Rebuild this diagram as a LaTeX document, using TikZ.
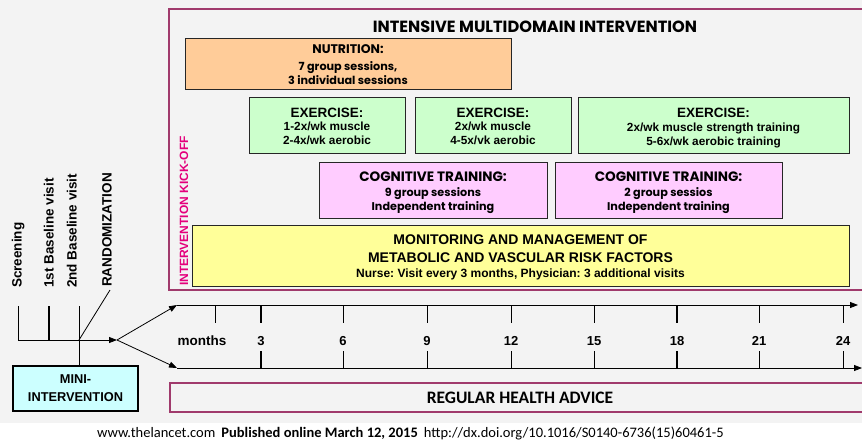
\documentclass[tikz,border=0pt]{standalone}
\usepackage{fontspec}
\setmainfont{Liberation Sans}
\newfontfamily\geo{Poppins}
\newfontfamily\calib{Carlito}
\usetikzlibrary{arrows.meta}
\frenchspacing

\definecolor{bgcol}{RGB}{243,243,243}
\definecolor{framecol}{RGB}{160,58,108}
\definecolor{kickcol}{RGB}{228,0,124}
\definecolor{nutricol}{RGB}{255,204,153}
\definecolor{exercol}{RGB}{204,255,204}
\definecolor{cogncol}{RGB}{255,204,255}
\definecolor{monicol}{RGB}{255,255,153}
\definecolor{minicol}{RGB}{204,255,255}

\newcommand{\fs}[1]{\fontsize{#1}{#1}\selectfont}

\tikzset{
  box/.style={draw=black!85, line width=1pt, inner sep=0pt},
  lbl/.style={anchor=base, inner sep=0pt, font=\bfseries},
  vlbl/.style={anchor=mid west, inner sep=0pt, rotate=90, font=\bfseries\fs{13.5}},
  frameline/.style={draw=framecol, line width=1.6pt},
  thin/.style={line width=0.8pt},
  tip/.style={-{Triangle[length=8pt,width=6pt]}},
  geohead/.style={lbl, font=\geo\bfseries\fs{13.6}},
  geosub/.style={lbl, font=\geo\bfseries\fs{11.2}},
  exhead/.style={lbl, font=\bfseries\fs{13.5}},
  exsub/.style={lbl, font=\bfseries\fs{11.8}},
}

\begin{document}
\begin{tikzpicture}[x=1pt,y=-1pt]
\useasboundingbox (0,0) rectangle (862,445);
\fill[bgcol] (0,0) rectangle (862,423);
\fill[white] (0,423) rectangle (862,445);

% intensive intervention frame (open on the right)
\draw[frameline] (862,9) -- (169,9) -- (169,290) -- (862,290);
\node[lbl, font=\geo\bfseries\fs{16.2}] (title) at (535,32) {INTENSIVE MULTIDOMAIN INTERVENTION};

% nutrition
\node[box, fill=nutricol, minimum width=326pt, minimum height=51pt] (nutr) at (348,63.5) {};
\node[lbl, font=\geo\bfseries\fs{12.5}] (nutrA) at (nutr.center |- 0,53) {NUTRITION:};
\node[geosub] (nutrB) at (nutr.center |- 0,70) {7 group sessions,};
\node[geosub] (nutrC) at (nutr.center |- 0,84) {3 individual sessions};

% exercise
\node[box, fill=exercol, minimum width=156pt, minimum height=56pt] (exA) at (327,125) {};
\node[box, fill=exercol, minimum width=156pt, minimum height=56pt] (exB) at (493,125.5) {};
\node[box, fill=exercol, minimum width=271pt, minimum height=56pt] (exC) at (713.5,125) {};
\node[exhead] (exAa) at (exA.center |- 0,117) {EXERCISE:};
\node[exsub] (exAb) at (exA.center |- 0,130) {1-2x/wk muscle};
\node[exsub] (exAc) at (exA.center |- 0,144) {2-4x/wk aerobic};
\node[exhead] (exBa) at (exB.center |- 0,117) {EXERCISE:};
\node[exsub] (exBb) at (exB.center |- 0,130) {2x/wk muscle};
\node[exsub] (exBc) at (exB.center |- 0,144) {4-5x/vk aerobic};
\node[exhead] (exCa) at (exC.center |- 0,117) {EXERCISE:};
\node[exsub] (exCb) at (exC.center |- 0,131) {2x/wk muscle strength training};
\node[exsub] (exCc) at (exC.center |- 0,145) {5-6x/wk aerobic training};

% cognitive training
\node[box, fill=cogncol, minimum width=228pt, minimum height=56pt] (cgA) at (433,190) {};
\node[box, fill=cogncol, minimum width=227pt, minimum height=56pt] (cgB) at (668.5,190) {};
\node[geohead] (cgAa) at (cgA.center |- 0,181) {COGNITIVE TRAINING:};
\node[geosub] (cgAb) at (cgA.center |- 0,196) {9 group sessions};
\node[geosub] (cgAc) at (cgA.center |- 0,210) {Independent training};
\node[geohead] (cgBa) at (cgB.center |- 0,181) {COGNITIVE TRAINING:};
\node[geosub] (cgBb) at (cgB.center |- 0,196) {2 group sessios};
\node[geosub] (cgBc) at (cgB.center |- 0,210) {Independent training};

% monitoring
\node[box, fill=monicol, minimum width=657pt, minimum height=61pt] (moni) at (520.5,255.5) {};
\node[lbl, font=\bfseries\fs{14}] (moniA) at (moni.center |- 0,244) {MONITORING AND MANAGEMENT OF};
\node[lbl, font=\bfseries\fs{14}] (moniB) at (moni.center |- 0,262) {METABOLIC AND VASCULAR RISK FACTORS};
\node[lbl, font=\bfseries\fs{12}] (moniC) at (moni.center |- 0,277) {Nurse: Visit every 3 months, Physician: 3 additional visits};

% kick-off
\node[inner sep=0pt, rotate=90, text=kickcol, font=\bfseries\fs{12}] (kick) at (184,211) {INTERVENTION KICK-OFF};

% study visits
\node[vlbl] (scr) at (19,288) {Screening};
\node[vlbl] (bl1) at (51,288) {1st Baseline visit};
\node[vlbl] (bl2) at (74,288) {2nd Baseline visit};
\node[vlbl] (rand) at (109,287) {RANDOMIZATION};

\coordinate (scrT) at (18,306);
\coordinate (scrB) at (18,340);
\coordinate (bl1T) at (49,306);
\coordinate (bl1B) at (49,340);
\coordinate (bl2T) at (79,306);
\coordinate (bl2M) at (79,340);
\coordinate (fork) at (117,340);
\coordinate (randE) at (110,290);

% mini-intervention
\node[draw=black, line width=2pt, fill=minicol, minimum width=125pt, minimum height=45pt, inner sep=0pt] (mini) at (75.5,388.5) {};
\node[lbl, font=\bfseries\fs{12.8}] (miniA) at (mini.center |- 0,383) {MINI-};
\node[lbl, font=\bfseries\fs{12.8}] (miniB) at (mini.center |- 0,401) {INTERVENTION};

\draw[thin] (scrT) -- (scrB);
\draw[line width=2pt] (bl1T) -- (bl1B);
\draw[thin] (bl2T) -- (mini.north -| bl2T);
\draw[thin, tip] (scrB) -- (fork);
\draw[thin] (bl2M) -- (randE);

% timelines
\coordinate (topS) at (177,305);
\coordinate (topE) at (858,305);
\coordinate (botS) at (177,368);
\coordinate (botE) at (862,368);
\draw[thin, tip] (fork) -- (topS);
\draw[thin, tip] (fork) -- (botS);
\draw[thin, tip] (topS) -- (topE);
\draw[thin, tip] (botS) -- (botE);

\draw[thin] (215,305) -- (215,323);
\node[lbl, font=\bfseries\fs{13.5}] (months) at (202,345) {months};
\foreach \m/\x/\w in {3/261/2, 6/343/0.8, 9/427/0.8, 12/511/0.8, 15/594/0.8, 18/677/2, 21/759/0.8, 24/843/0.8}{
  \draw[line width=\w pt] (\x,305) -- (\x,323);
  \draw[line width=\w pt] (\x,351) -- (\x,368);
  \node[lbl, font=\bfseries\fs{13}] (m\m) at (\x,345) {\m};
}

% control group
\draw[frameline] (862,383) -- (170,383) -- (170,412) -- (862,412);
\node[lbl, font=\calib\bfseries\fs{17.5}] (advice) at (520,403) {REGULAR HEALTH ADVICE};

% source line
\node[anchor=base west, inner sep=0pt, font=\calib\fs{14.5}] (src) at (97,437)
  {www.thelancet.com\hspace{6pt}\textbf{Published online March 12, 2015}\hspace{6pt}http://dx.doi.org/10.1016/S0140-6736(15)60461-5};
\end{tikzpicture}
\end{document}
